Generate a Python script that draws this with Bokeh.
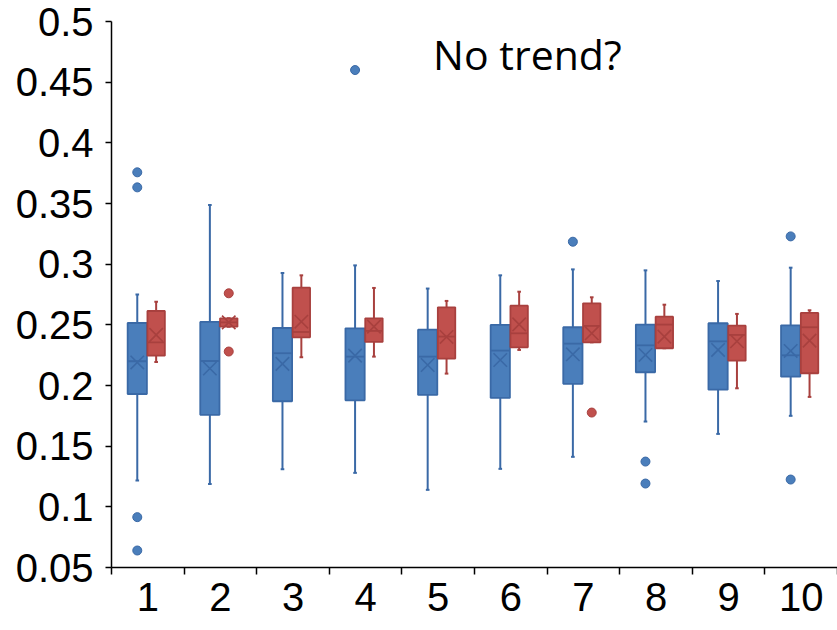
import numpy as np
from bokeh.plotting import figure
from bokeh.models import ColumnDataSource, FixedTicker, Label, Range1d
from bokeh.embed import file_html
from bokeh.resources import INLINE

# ---------------- data ----------------
categories = ["1", "2", "3", "4", "5", "6", "7", "8", "9", "10"]

blue_low    = [0.1217, 0.1189, 0.131, 0.128, 0.114, 0.1313, 0.1412, 0.1703, 0.1601, 0.175]
blue_q1     = [0.193, 0.1758, 0.187, 0.1878, 0.1922, 0.1898, 0.2014, 0.2109, 0.1966, 0.2073]
blue_median = [0.220, 0.2202, 0.2266, 0.2238, 0.2238, 0.2288, 0.2345, 0.2331, 0.2364, 0.2249]
blue_q3     = [0.2515, 0.2524, 0.2474, 0.2471, 0.246, 0.2499, 0.248, 0.2502, 0.2513, 0.2496]
blue_high   = [0.275, 0.3487, 0.2927, 0.299, 0.2799, 0.2908, 0.2957, 0.2949, 0.2861, 0.2971]
blue_mean   = [0.219, 0.214, 0.2178, 0.2246, 0.2169, 0.221, 0.2257, 0.2252, 0.2293, 0.2285]
blue_outliers = [[0.3757, 0.3633, 0.0915, 0.064], [], [], [0.460], [], [], [0.3185],
                 [0.1373, 0.1192], [], [0.3229, 0.1225]]

red_low    = [0.2194, 0.2485, 0.2233, 0.2238, 0.2098, 0.2293, 0.2356, 0.2307, 0.1977, 0.1906]
red_q1     = [0.2246, 0.2485, 0.2397, 0.2359, 0.2222, 0.2315, 0.2356, 0.2307, 0.2205, 0.2101]
red_median = [0.2356, 0.252, 0.2441, 0.245, 0.2403, 0.243, 0.2491, 0.2502, 0.2417, 0.248]
red_q3     = [0.2614, 0.2554, 0.2806, 0.2554, 0.2644, 0.2658, 0.2677, 0.2567, 0.2493, 0.2598]
red_high   = [0.269, 0.2554, 0.2908, 0.2804, 0.2697, 0.2773, 0.2727, 0.2666, 0.259, 0.262]
red_mean   = [0.2417, 0.252, 0.2526, 0.2485, 0.240, 0.2504, 0.243, 0.2403, 0.2364, 0.237]
red_outliers = [[], [0.276, 0.228], [], [], [], [], [0.1777], [], [], []]

y_ticks = [0.05, 0.1, 0.15, 0.2, 0.25, 0.3, 0.35, 0.4, 0.45, 0.5]
y_tick_labels = ["0.05", "0.1", "0.15", "0.2", "0.25", "0.3", "0.35", "0.4", "0.45", "0.5"]
annotation = "No trend?"

# ---------------- figure ----------------
p = figure(width=837, height=630, output_backend="svg", toolbar_location=None,
           x_range=Range1d(0.5, 10.5), y_range=Range1d(0.05, 0.5))
p.min_border_left = 111
p.min_border_right = 0
p.min_border_top = 21
p.min_border_bottom = 63
p.outline_line_color = None
p.xgrid.visible = False
p.ygrid.visible = False
p.background_fill_color = "white"
p.border_fill_color = "white"

FONT = "Liberation Sans"

# y axis
p.yaxis.ticker = FixedTicker(ticks=y_ticks, minor_ticks=[])
p.yaxis.major_label_overrides = {t: l for t, l in zip(y_ticks, y_tick_labels)}
p.yaxis.major_label_text_font = FONT
p.yaxis.major_label_text_font_size = "40px"
p.yaxis.major_label_text_color = "black"
p.yaxis.axis_line_color = "black"
p.yaxis.axis_line_width = 1.5
p.yaxis.major_tick_line_color = "black"
p.yaxis.major_tick_line_width = 1.5
p.yaxis.major_tick_out = 6
p.yaxis.major_tick_in = 0
p.yaxis.major_label_standoff = 12

# x axis: labels at centres, ticks at category boundaries
n = len(categories)
xc = np.arange(1, n + 1)
p.xaxis.ticker = FixedTicker(ticks=list(xc), minor_ticks=list(np.arange(0.5, n + 1, 1.0)))
p.xaxis.major_label_overrides = {int(i): c for i, c in zip(xc, categories)}
p.xaxis.major_label_text_font = FONT
p.xaxis.major_label_text_font_size = "40px"
p.xaxis.major_label_text_color = "black"
p.xaxis.axis_line_color = "black"
p.xaxis.axis_line_width = 1.5
p.xaxis.major_tick_line_color = None
p.xaxis.major_tick_out = 7
p.xaxis.major_tick_in = 0
p.xaxis.minor_tick_line_color = "black"
p.xaxis.minor_tick_line_width = 1.5
p.xaxis.minor_tick_out = 7
p.xaxis.minor_tick_in = 0
p.xaxis.major_label_standoff = 8


def draw_series(offset, width, low, q1, med, q3, high, mean, outliers, fill, edge):
    x = xc + offset
    src = ColumnDataSource(dict(x=x, low=low, q1=q1, med=med, q3=q3, high=high, mean=mean,
                                left=x - width / 2, right=x + width / 2,
                                capl=x - 0.025, capr=x + 0.025))
    # whiskers
    p.segment(x0="x", y0="high", x1="x", y1="q3", source=src, line_color=edge, line_width=2)
    p.segment(x0="x", y0="low", x1="x", y1="q1", source=src, line_color=edge, line_width=2)
    p.segment(x0="capl", y0="high", x1="capr", y1="high", source=src, line_color=edge, line_width=2)
    p.segment(x0="capl", y0="low", x1="capr", y1="low", source=src, line_color=edge, line_width=2)
    # box
    p.quad(left="left", right="right", bottom="q1", top="q3", source=src,
           fill_color=fill, line_color=edge, line_width=1.8)
    # median
    p.segment(x0="left", y0="med", x1="right", y1="med", source=src, line_color=edge, line_width=1.8)
    # mean X
    p.scatter(x="x", y="mean", source=src, marker="x", size=19, line_color=edge, line_width=1.6)
    # outliers
    ox, oy = [], []
    for xi, vals in zip(x, outliers):
        for v in vals:
            ox.append(xi)
            oy.append(v)
    if ox:
        p.scatter(x=ox, y=oy, marker="circle", size=9, fill_color=fill, line_color=edge, line_width=1)


draw_series(-0.145, 0.265, blue_low, blue_q1, blue_median, blue_q3, blue_high, blue_mean,
            blue_outliers, "#4a7ebb", "#3a69a6")
draw_series(0.115, 0.24, red_low, red_q1, red_median, red_q3, red_high, red_mean,
            red_outliers, "#c0504d", "#a8403e")

p.add_layout(Label(x=4.93, y=0.473, text=annotation, text_font="Open Sans",
                   text_font_size="41px", text_color="black", text_baseline="alphabetic"))

open("out.html", "w").write(file_html(p, INLINE))
